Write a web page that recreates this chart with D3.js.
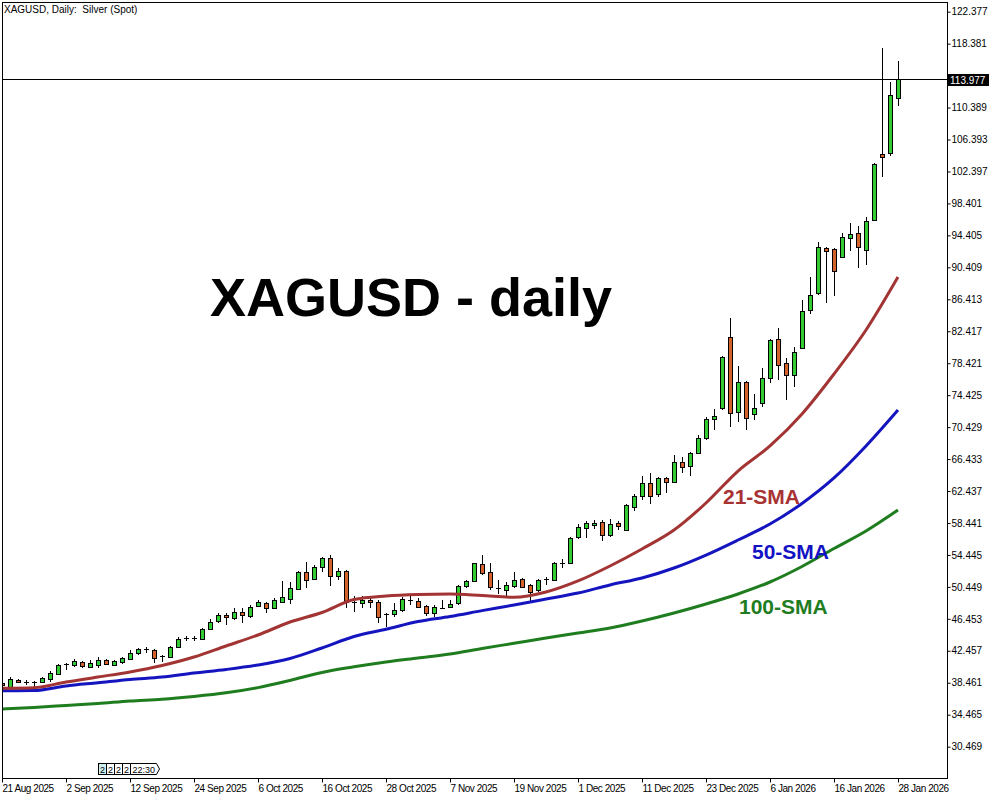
<!DOCTYPE html>
<html><head><meta charset="utf-8">
<script src="https://cdn.jsdelivr.net/npm/d3@7"></script>
<style>body{margin:0;background:#fff}svg{display:block}</style>
</head><body>
<svg id="chart" width="1000" height="800"></svg>
<script>
// ---------- DATA ----------
const startDate = "2025-08-21";
const endDate = "2026-01-28";
const holidays = ["2025-12-25", "2026-01-01"];

const opens = [38.45,37.97,38.77,38.50,38.58,38.52,38.89,39.55,40.74,40.68,41.06,40.47,40.68,41.31,40.68,41.06,41.47,42.15,42.62,42.56,
41.70,41.72,42.98,43.95,43.95,43.90,45.15,46.14,46.93,46.60,47.31,46.81,48.06,48.47,47.77,48.60,48.89,50.14,52.27,51.39,
52.98,54.02,51.81,52.44,48.62,48.39,48.81,48.60,47.00,47.02,47.56,48.79,48.68,48.06,47.14,47.83,47.89,48.39,50.56,51.22,
53.31,52.35,50.25,50.06,50.56,51.39,50.69,50.06,51.36,51.31,53.38,53.40,56.73,57.85,58.20,58.60,56.94,58.40,57.56,60.48,
61.81,63.48,62.02,64.02,63.60,66.10,65.56,67.23,69.03,71.40,72.78,81.66,72.36,76.11,72.07,73.40,76.53,81.41,78.41,76.94,
80.36,85.06,87.16,92.86,92.66,91.74,94.04,94.66,92.57,96.33,104.54,104.74,111.55];
const highs = [38.70,39.14,38.89,38.80,38.62,39.14,39.93,40.77,40.97,41.43,41.22,41.31,41.64,41.39,41.31,41.72,42.56,42.77,42.90,42.65,
41.93,43.06,44.14,44.31,44.30,45.27,46.43,47.23,47.14,47.77,47.77,48.19,48.81,48.60,49.02,51.22,51.02,52.40,53.60,53.19,
54.23,54.43,52.77,52.56,49.31,49.31,49.14,48.85,47.22,48.39,49.22,49.31,49.02,48.14,48.19,48.81,48.81,50.69,51.31,53.48,
54.43,53.48,51.31,51.10,52.35,51.52,50.77,51.39,51.72,53.60,53.90,56.73,58.30,58.73,58.85,58.80,59.00,58.70,60.81,62.02,
64.30,64.65,64.15,64.23,66.94,66.73,67.35,69.44,71.65,72.66,79.32,84.03,78.07,76.20,74.53,77.86,81.41,82.78,79.03,80.48,
86.33,89.24,93.62,93.00,92.79,94.66,95.92,95.58,96.66,103.42,117.80,113.62,116.25];
const lows = [38.00,37.89,38.39,38.18,37.97,38.39,38.60,39.47,40.06,40.39,40.31,40.31,40.27,40.64,40.56,40.81,41.31,41.93,42.15,40.97,
41.10,41.60,42.85,43.72,43.72,43.80,45.06,45.89,45.68,46.31,45.89,46.60,47.89,47.23,47.64,48.39,48.31,50.06,50.27,51.31,
52.35,50.56,51.31,47.77,47.35,47.77,47.77,45.89,45.47,46.72,47.35,48.19,47.93,46.81,46.72,47.64,47.77,48.19,50.27,51.10,
51.94,50.06,49.56,49.31,50.27,50.27,48.47,49.85,50.69,51.22,52.77,53.31,56.40,56.52,57.70,56.20,56.70,57.60,57.44,59.98,
61.31,60.77,61.65,62.15,63.48,64.65,64.31,67.15,68.82,70.07,72.57,70.48,71.10,70.07,71.32,72.98,75.91,76.32,73.82,75.48,
80.16,84.60,86.95,85.99,86.82,91.66,92.49,90.29,90.70,96.20,101.74,104.33,110.58];
const closes = [38.20,38.93,38.55,38.53,38.60,39.05,39.72,40.64,40.79,41.18,40.56,40.93,41.31,40.77,41.18,41.56,42.23,42.65,42.68,41.56,
41.75,42.98,43.98,44.00,44.00,45.15,46.02,46.93,46.65,47.31,46.93,47.89,48.56,47.77,48.81,49.14,50.27,52.27,51.31,52.90,
54.05,51.81,52.44,48.60,48.58,48.81,48.56,46.64,47.04,47.56,48.89,48.83,47.97,47.14,47.89,47.87,48.27,50.56,51.19,53.40,
52.23,50.48,50.29,50.69,51.31,50.48,49.85,51.31,51.42,53.40,53.42,56.52,57.90,58.48,58.45,56.94,58.28,58.10,60.69,61.81,
63.48,61.81,64.02,63.60,66.10,65.40,67.23,69.03,71.40,71.82,79.16,72.16,76.11,71.53,72.78,76.53,81.32,78.20,76.94,79.86,
84.98,86.95,93.00,92.45,89.99,94.24,94.54,92.91,96.20,103.29,104.17,111.96,113.977];

// moving averages every 4th bar
const smaBars = [0,4,8,12,16,20,24,28,32,36,40,44,48,52,56,60,64,68,72,76,80,84,88,92,96,100,104,108,112];
const sma21 = [37.77,37.84,38.55,39.18,39.81,40.62,41.68,43.06,44.43,46.06,47.25,48.87,49.31,49.50,49.56,49.37,49.15,49.81,51.19,53.06,55.19,57.56,60.94,64.94,68.07,72.07,77.07,82.57,89.20];
const sma50 = [37.47,37.49,38.06,38.46,38.87,39.18,39.68,40.12,40.68,41.49,42.81,44.24,45.15,46.12,46.75,47.48,48.19,48.93,49.68,50.69,51.56,52.81,54.43,56.31,58.31,60.88,64.07,68.07,72.57];
const sma100 = [35.18,35.37,35.62,35.87,36.18,36.40,36.75,37.20,37.85,38.75,39.75,40.45,41.06,41.56,42.06,42.75,43.40,44.06,44.68,45.31,46.18,47.18,48.31,49.56,51.06,53.00,55.25,57.44,60.06];

const priceTicks = [122.377,118.381,110.389,106.393,102.397,98.401,94.405,90.409,86.413,82.417,78.421,74.425,70.429,66.433,62.437,58.441,54.445,50.449,46.453,42.457,38.461,34.465,30.469];
const dateTicks = ["21 Aug 2025","2 Sep 2025","12 Sep 2025","24 Sep 2025","6 Oct 2025","16 Oct 2025","28 Oct 2025","7 Nov 2025","19 Nov 2025","1 Dec 2025","11 Dec 2025","23 Dec 2025","6 Jan 2026","16 Jan 2026","28 Jan 2026"];
const lastPrice = 113.977;
const titleText = "XAGUSD, Daily:  Silver (Spot)";
const bigTitle = "XAGUSD - daily";
const smaLabels = ["21-SMA","50-SMA","100-SMA"];
const markerLabels = ["2","2","2","2","22:30"];

// ---------- CATEGORIES ----------
const isoFmt = d3.utcFormat("%Y-%m-%d");
const labelFmt = d3.utcFormat("%-d %b %Y");
const days = d3.utcDays(new Date(startDate), d3.utcDay.offset(new Date(endDate), 1))
  .filter(d => d.getUTCDay() % 6 !== 0 && !holidays.includes(isoFmt(d)));
const dates = days.map(isoFmt);
const bars = dates.map((d, i) => ({date: d, label: labelFmt(days[i]), o: opens[i], h: highs[i], l: lows[i], c: closes[i]}));

// ---------- LAYOUT ----------
const L = 2.5, R = 947.5, T = 2.5, B = 778.5;
const svg = d3.select("#chart");
const x = d3.scalePoint().domain(dates).range([2, 898]);
const y = d3.scaleLinear().domain([26.55, 123.59]).range([778, 2]);
const font = "Liberation Sans, Arial, sans-serif";

svg.append("rect").attr("width", 1000).attr("height", 800).attr("fill", "#fff");
svg.append("defs").append("clipPath").attr("id", "plot")
  .append("rect").attr("x", 3).attr("y", 3).attr("width", R - 3.5).attr("height", B - 3.5);

const g = svg.append("g").attr("clip-path", "url(#plot)");

// candles
const upFill = "#32cd32", downFill = "#d2622a";
const cg = g.append("g");
bars.forEach(b => {
  const X = Math.round(x(b.date));
  const cx = X + 0.5;
  cg.append("line").attr("x1", cx).attr("x2", cx)
    .attr("y1", Math.round(y(b.h))).attr("y2", Math.round(y(b.l)))
    .attr("stroke", "#000").attr("stroke-width", 1);
  const yo = y(b.o), yc = y(b.c);
  const top = Math.round(Math.min(yo, yc)), bot = Math.round(Math.max(yo, yc));
  if (bot - top < 2) {
    cg.append("line").attr("x1", X - 2).attr("x2", X + 3)
      .attr("y1", top + 0.5).attr("y2", top + 0.5).attr("stroke", "#000").attr("stroke-width", 1);
  } else {
    cg.append("rect").attr("x", X - 1.5).attr("y", top + 0.5).attr("width", 4).attr("height", bot - top)
      .attr("fill", b.c >= b.o ? upFill : downFill).attr("stroke", "#000").attr("stroke-width", 1);
  }
});

// moving averages
const smaDefs = [
  {vals: sma100, color: "#1f7d1f"},
  {vals: sma50, color: "#1515c0"},
  {vals: sma21, color: "#a33434"}
];
smaDefs.forEach(s => {
  const pts = smaBars.map((bi, k) => [x(dates[bi]), y(s.vals[k])]);
  g.append("path").attr("d", d3.line().curve(d3.curveMonotoneX)(pts))
    .attr("fill", "none").attr("stroke", s.color).attr("stroke-width", 3).attr("stroke-linejoin", "round");
});

// current price line
const yl = Math.round(y(lastPrice));
g.append("line").attr("x1", 3).attr("x2", R).attr("y1", yl + 0.5).attr("y2", yl + 0.5)
  .attr("stroke", "#000").attr("stroke-width", 1);

// frame
svg.append("rect").attr("x", L).attr("y", T).attr("width", R - L).attr("height", B - T)
  .attr("fill", "none").attr("stroke", "#000").attr("stroke-width", 1);

// right price axis
const yAxis = d3.axisRight(y).tickValues(priceTicks).tickSize(3).tickPadding(1).tickFormat(d3.format(".3f"));
const ya = svg.append("g").attr("transform", `translate(${R},0)`).call(yAxis);
ya.select(".domain").remove();
ya.selectAll(".tick line").attr("stroke", "#000");
ya.selectAll(".tick text").attr("font-family", font).attr("font-size", 10).attr("fill", "#000");

// bottom date axis
const tickDates = dateTicks.map(lbl => bars.find(b => b.label === lbl).date);
const xAxis = d3.axisBottom(x).tickValues(tickDates).tickSize(4).tickPadding(2)
  .tickFormat(d => bars.find(b => b.date === d).label);
const xa = svg.append("g").attr("transform", `translate(0,${B})`).call(xAxis);
xa.select(".domain").remove();
xa.selectAll(".tick line").attr("stroke", "#000");
xa.selectAll(".tick text").attr("text-anchor", "start").attr("x", 0)
  .attr("font-family", font).attr("font-size", 10)
  .attr("letter-spacing", "-0.45px").attr("fill", "#000");

// last price tag
svg.append("rect").attr("x", 948).attr("y", yl - 5).attr("width", 41).attr("height", 12).attr("fill", "#000");
svg.append("text").attr("x", 950).attr("y", yl + 4.5).text(d3.format(".3f")(lastPrice))
  .attr("font-family", font).attr("font-size", 10).attr("fill", "#fff");

// title
svg.append("text").attr("x", 4).attr("y", 13).text(titleText)
  .attr("font-family", font).attr("font-size", 10).attr("fill", "#000")
  .style("white-space", "pre");

// big label
svg.append("text").attr("x", 210).attr("y", 316).text(bigTitle)
  .attr("font-family", font).attr("font-weight", "bold").attr("font-size", 54).attr("fill", "#000");

// SMA labels
const smaLabelPos = [[723, 503.5, "#a83232"], [752, 559, "#1212c4"], [739, 614, "#1f7d1f"]];
smaLabels.forEach((t, i) => {
  svg.append("text").attr("x", smaLabelPos[i][0]).attr("y", smaLabelPos[i][1]).text(t)
    .attr("font-family", font).attr("font-weight", "bold").attr("font-size", 21)
    .attr("fill", smaLabelPos[i][2]);
});

// period separator markers near the bottom
const mg = svg.append("g");
const mx0 = 98.5, my0 = 763.5, mh = 11;
markerLabels.forEach((t, i) => {
  if (i < 4) {
    mg.append("rect").attr("x", mx0 + 8 * i).attr("y", my0).attr("width", 8).attr("height", mh)
      .attr("fill", i === 0 ? "#cdeeee" : "#fff").attr("stroke", "#000").attr("stroke-width", 1);
    mg.append("text").attr("x", mx0 + 8 * i + 4).attr("y", my0 + 9).attr("text-anchor", "middle").text(t)
      .attr("font-family", font).attr("font-size", 9).attr("fill", "#000");
  } else {
    const x0 = mx0 + 32;
    mg.append("path").attr("d", `M${x0},${my0}H${x0 + 26}L${x0 + 29},${my0 + mh / 2}L${x0 + 26},${my0 + mh}H${x0}Z`)
      .attr("fill", "#fff").attr("stroke", "#000").attr("stroke-width", 1);
    mg.append("text").attr("x", x0 + 2).attr("y", my0 + 9).text(t)
      .attr("font-family", font).attr("font-size", 9).attr("fill", "#000");
  }
});
</script>
</body></html>
